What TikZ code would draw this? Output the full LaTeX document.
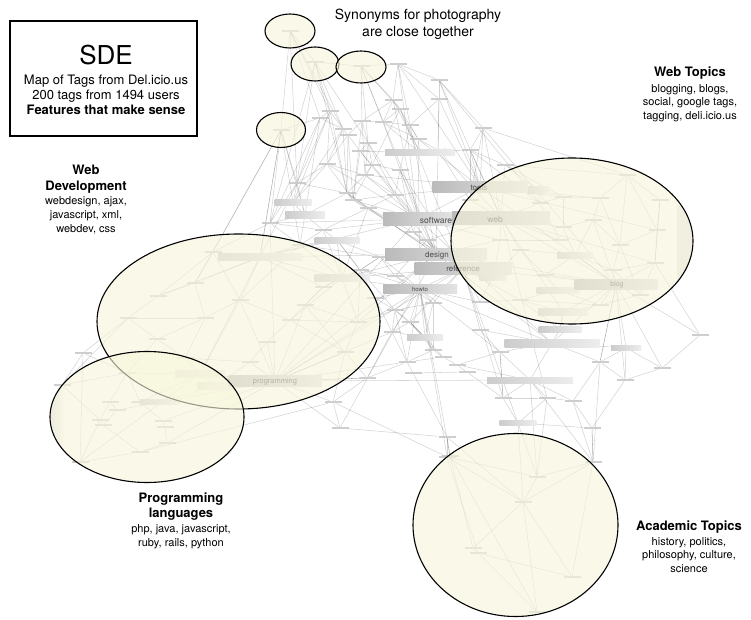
\documentclass[tikz,border=0pt]{standalone}
\usepackage{fontspec}
\setmainfont{TeX Gyre Heros}
\usetikzlibrary{shapes.geometric}
\pgfdeclarelayer{edges}
\pgfdeclarelayer{over}
\pgfsetlayers{edges,main,over}
\definecolor{cream}{RGB}{248,246,220}
\begin{document}
\begin{tikzpicture}[x=1pt,y=-1pt,
  link/.style={draw=black, draw opacity=0.17, line width=0.55pt},
  tag/.style={rectangle, inner sep=0pt, minimum width=17pt, minimum height=2.2pt, fill=black!24, fill opacity=0.8},
  bar/.style={rectangle, inner sep=0pt, left color=black!20, right color=black!7},
  keybar/.style={rectangle, inner sep=0pt, left color=black!27, right color=black!11},
  barlabel/.style={inner sep=0pt, text=black!70, font=\fontsize{8}{9}\selectfont},
  hl/.style={ellipse, draw=black, line width=1.1pt, fill=cream, fill opacity=0.62, inner sep=0pt},
  heading/.style={align=center, inner sep=0pt, font=\fontsize{13}{15.5}\selectfont\bfseries},
  body/.style={align=center, inner sep=0pt, font=\fontsize{11}{13.8}\selectfont}]

\useasboundingbox (0,0) rectangle (751,620);
\begin{pgfonlayer}{edges}
  \fill[white] (0,0) rectangle (751,620);
\end{pgfonlayer}

% ---- small tag marks of the tag network ----
\foreach \n/\x/\y in {
  t1/290/31, t2/315/62, t3/361/66, t4/281/130, t5/398/64, t6/439/80, t7/393/100,
  t8/439/99, t9/400/109, t10/330/111, t11/320/118, t12/362/121, t13/383/122,
  t14/410/125, t15/343/129, t16/348/135, t17/483/128, t18/418/139, t19/368/143,
  t20/360/151, t21/372/165, t22/400/170, t23/438/150, t24/470/150, t25/505/165,
  c1/297/183, c2/327/164, c3/347/193, c4/323/230, c5/270/223, c6/353/200,
  c7/380/257, c8/413/232, c9/427/240, c10/395/276, c11/433/303, c12/300/245,
  c13/365/175, c14/395/195, c15/368/208, c16/360/270, c17/395/310, c18/410/322,
  w1/213/252, w2/323/287, w3/305/305, w4/195/283, w5/158/296, w6/157/339,
  w8/267/342, w9/240/300, w10/290/320, w11/205/318, w12/345/352, w13/128/318,
  w14/358/322, w15/250/362, w16/185/358,
  g1/83/353, g2/127/373, g3/110/402, g4/117/410, g5/140/402, g6/100/420,
  g7/103/425, g8/163/421, g9/165/427, g10/167/443, g11/140/452, g12/80/462, g14/62/385,
  r1/627/175, r2/600/198, r3/540/203, r4/563/197, r5/657/230, r6/593/220,
  r7/563/227, r8/655/263, r9/613/270, r11/545/275, r13/520/250, r14/500/240,
  r16/470/200, r17/560/240, r18/620/245, r19/640/295, r20/600/305, r21/520/300,
  r22/480/302, r23/660/200,
  l1/407/362, l2/433/350, l3/443/357, l4/457/365, l5/467/372, l6/367/378,
  l7/413/373, l8/333/402, l9/340/428, l10/447/437, l11/450/456, l12/503/398,
  l13/547/398, l15/573/401, l16/592/428, l17/625/380, l18/662/368, l19/700/335,
  l20/392/332, l21/480/330, l22/500/352, l23/600/362, l24/375/298,
  a1/447/457, a2/593/462, a3/537/477, a4/523/502, a5/473/548, a6/478/553,
  a7/572/577, a8/537/612}
  \node[tag] (\n) at (\x,\y) {};

% ---- unlabelled tag bars ----
\foreach \n/\x/\y/\w/\h in {
  m1/293/203/37/6, m2/305/215/40/6, m3/337/240/45/6, m4/420/153/70/6,
  m5/560/329/43/6, m6/552/343/95/8, m7/425/337/36/6, m8/626/348/30/5,
  m9/530/380/86/6, m10/518/423/37/5, m11/563/312/50/7, m12/538/190/22/7,
  m13/575/255/36/6, m14/493/277/27/6, m15/558/290/43/6, m16/160/402/40/5,
  jv/200/374/50/7, js/215/386/36/7, lx/260/257/84/7, cs/342/278/55/7}
  \node[bar, minimum width=\w pt, minimum height=\h pt] (\n) at (\x,\y) {};

% ---- labelled tag bars ----
\node[keybar, minimum width=95pt, minimum height=11pt] (tl) at (480,187) {};
\node[barlabel] (tltext) at (479,188) {tools};
\node[keybar, minimum width=70pt, minimum height=12pt] (sw) at (418,219) {};
\node[barlabel, font=\fontsize{8.5}{9}\selectfont] (swtext) at (436,220) {software};
\node[keybar, minimum width=98pt, minimum height=12pt] (wb) at (501,218) {};
\node[barlabel, font=\fontsize{8.5}{9}\selectfont] (wbtext) at (495,219) {web};
\node[keybar, minimum width=102pt, minimum height=12pt] (ds) at (436,254) {};
\node[barlabel] (dstext) at (437,255) {design};
\node[keybar, minimum width=97pt, minimum height=12pt] (rf) at (463,268) {};
\node[barlabel] (rftext) at (463,269) {reference};
\node[keybar, minimum width=74pt, minimum height=9pt] (ht) at (420,289) {};
\node[barlabel, font=\fontsize{6}{7}\selectfont] (httext) at (420,289) {howto};
\node[keybar, minimum width=83pt, minimum height=10pt] (bl) at (616,284) {};
\node[barlabel, font=\fontsize{7}{8}\selectfont] (bltext) at (617,285) {blog};
\node[keybar, minimum width=93pt, minimum height=11pt] (pg) at (275,381) {};
\node[barlabel, font=\fontsize{7.5}{8}\selectfont] (pgtext) at (275,382) {programming};

% ---- faint screen bands inside two highlighted regions ----
\begin{scope}
  \clip (572,241) ellipse [x radius=121, y radius=83];
  \fill[black!9] (677,205) rectangle (700,295);
\end{scope}
\begin{scope}
  \clip (147,417) ellipse [x radius=97, y radius=65.5];
  \shade[left color=black!14, right color=black!2] (48,377) rectangle (64,463);
\end{scope}

% ---- links of the tag network ----
\begin{pgfonlayer}{edges}
\foreach \a/\b in {
  t1/t2, t1/t4, t1/c1, t1/t10, t1/t11, t2/t3, t2/t10, t2/c1, t2/t15, t2/sw, t2/c5,
  t3/t5, t3/t12, t3/t19, t3/ds, t3/t9, t4/c5, t4/t11, t4/w4, t4/c1, t4/lx, t4/w1,
  t5/t6, t5/t7, t5/tl, t5/sw, t5/t14, t6/t8, t6/t17, t6/wb, t6/r3,
  t7/t9, t7/t13, t7/sw, t7/m4, t8/t23, t8/tl, t8/ds, t8/t14,
  t9/t13, t9/t21, t9/rf, t9/m4, t10/t11, t10/t15, t10/c2, t10/m1,
  t11/c1, t11/c5, t11/m2, t12/t13, t12/t19, t12/c13, t12/t16,
  t13/t18, t13/sw, t13/t14, t14/t22, t14/ds, t14/t18, t15/t16, t15/c3, t15/m1,
  t16/t20, t16/c6, t16/c2, t17/t24, t17/wb, t17/r1, t17/bl, t17/r16,
  t18/t23, t18/tl, t18/ht, t18/m4, t19/t20, t19/c13, t19/t21,
  t20/t21, t20/c14, t20/m4, t21/t22, t21/sw, t21/c13, t22/rf, t22/ds, t22/c14,
  t23/t24, t23/wb, t23/m4, t24/t25, t24/r3, t24/tl, t25/wb, t25/r1, t25/m12, t25/r4,
  c1/c2, c1/c3, c1/c5, c1/lx, c1/m1, c2/c13, c2/sw, c2/m1,
  c3/c6, c3/c15, c3/ds, c3/m2, c4/c5, c4/c12, c4/cs, c4/sw, c4/m3,
  c5/w1, c5/c12, c5/pg, c5/m2, c6/c14, c6/c15, c6/rf,
  c7/c16, c7/ds, c7/ht, c7/m3, c8/c9, c8/sw, c8/ds, c8/c15,
  c9/c10, c9/rf, c9/wb, c10/c11, c10/ht, c10/c7, c11/c17, c11/l2, c11/m7,
  c12/lx, c12/cs, c12/w9, c12/m3, c13/c14, c13/tl, c14/c15, c14/sw, c14/tl,
  c15/cs, c15/ds, c16/c17, c16/cs, c16/ht, c16/m3, c17/c18, c17/l1, c17/m7,
  c18/l3, c18/ht, c18/rf, c18/m7,
  w1/lx, w1/w4, w1/w9, w1/w5, w2/w3, w2/cs, w2/w10, w2/lx, w3/pg, w3/w14,
  w4/w5, w4/w11, w4/lx, w5/w13, w5/lx, w6/w16, w6/g2, w6/w11, w6/w13,
  w8/pg, w8/w15, w8/w10, w9/w10, w9/w11, w9/pg, w9/lx, w10/w14, w10/cs,
  w11/w16, w11/w13, w12/w14, w12/pg, w12/l6, w13/g1, w14/c16, w14/ds, w14/cs,
  w15/js, w15/w16, w15/pg, w16/jv,
  jv/js, jv/pg, js/pg, jv/g2, js/m16, jv/lx, jv/w9,
  g1/g2, g1/g12, g1/g14, g2/g3, g2/g5, g3/g4, g3/g6, g4/g7, g4/m16,
  g5/m16, g5/g8, g6/g7, g6/g12, g6/g14, g7/g11, g8/g9, g8/pg, g9/g10,
  g10/g11, g10/pg, g11/g12, g11/l8, m16/pg, g12/jv,
  r1/r2, r1/r23, r1/r5, r2/r4, r2/r6, r2/tl, r3/r4, r3/r17, r3/wb, r3/m12,
  r4/r7, r4/tl, r5/r18, r5/r8, r5/r23, r6/r7, r6/r18, r6/bl, r7/m13, r7/wb,
  r8/r9, r8/bl, r8/r19, r9/m13, r9/r19, r9/r18, m13/r11, m13/bl,
  r11/m15, r11/r13, m14/r13, m14/rf, m14/r22, r13/wb, r14/wb, r14/m14, r14/sw,
  m15/r20, m15/bl, r16/wb, r16/tl, r17/wb, r17/r14,
  r18/r19, r19/r20, r20/r21, r21/r22, r21/m15, r22/rf,
  r20/m11, r21/m11, m11/m5, m11/bl,
  l1/l2, l1/l6, l1/l7, l2/l3, l2/ht, l3/l4, l4/l5, l5/l7, l5/l12,
  l6/l8, l6/pg, l7/l10, l8/l9, l9/l10, l10/l11,
  l12/l13, l12/m10, l13/l15, l13/m10, m10/l16, l15/l16, l15/l23,
  l16/l17, l17/l18, l18/l19, l19/r8,
  l20/l1, l20/c17, l20/ht, l20/m7, l21/l22, l21/rf, l21/m6,
  l22/l12, l22/l4, l22/m9, l23/l17, l23/bl, l23/m6, l24/c17, l24/ht, l24/l20,
  m5/m6, m6/bl, m6/m9, m9/l13, m9/l12, m8/bl, m8/l18, m8/m6,
  a1/a3, a1/a4, a1/a6, a1/l10, a2/a3, a2/a4, a2/l16, a3/a4, a4/a5, a4/a7, a4/a8,
  a5/a6, a6/a7, a6/a8, a7/a2, a3/l13, a1/l8, a2/l23, a3/m9, a8/l11,
  sw/wb, sw/tl, sw/ds, ds/rf, rf/ht, ht/pg, ds/pg, sw/pg, tl/bl, wb/bl, rf/bl,
  ds/bl, lx/sw, cs/ds, pg/rf, wb/l13, bl/l23, rf/l12, ht/l11, ds/l9, pg/l9,
  sw/c5, tl/t17, ht/m6, pg/l8, lx/ds, cs/rf, ht/l22, ds/m6, sw/m6, pg/m9,
  ht/a1, rf/a3, wb/m11, tl/r5, wb/r8, bl/l17, ht/l1, pg/l6, lx/t4,
  t1/t15, t2/c3, t3/t13, t3/t7, t4/c12, t4/m2, t5/t8, t6/tl, t7/t12, t10/c1,
  t10/c3, t11/t15, t12/c6, t15/c2, t16/c3, t19/c14, t20/c6, t21/c6, t22/c8,
  t23/r16, t24/wb, t24/r16, t13/m4, t9/t18, c1/m2, c2/c6, c3/c13, c4/m2, c4/c15,
  c6/sw, c7/c12, c8/rf, c9/ds, c10/c16, c11/rf, c11/ht, c12/m2, c13/sw, c14/ds,
  c16/c7, c17/ht, c18/l2, c18/l20, m1/m2, m3/cs, m3/c16, m7/ht, m7/l2, l24/c16,
  l20/l6, l1/l3, w12/l8, w14/c17, w10/w12, w3/w12, w2/c16, lx/cs, lx/m3,
  cs/ht, pg/l1, pg/l20, jv/g5, g2/g14, g14/w13, r22/ht, r21/rf, m14/ds, r14/ds,
  r13/m13, r11/bl, r9/bl, r20/bl, r6/m13, r2/r18, r1/r18, r23/r8, l19/bl,
  l18/bl, l17/m8, l23/m8, l15/m9, l12/l22, m5/m11, m5/r21, m6/l22, m9/l4,
  l16/a2, l15/a2, a2/m9, l10/a4, l11/a5, m10/a4}
  \draw[link] (\a) -- (\b);
\end{pgfonlayer}

% ---- highlighted regions and captions ----
\begin{pgfonlayer}{over}
\node[hl, minimum width=50pt, minimum height=34pt] (photoA) at (290,31) {};
\node[hl, minimum width=48pt, minimum height=34pt] (photoB) at (315,64) {};
\node[hl, minimum width=50pt, minimum height=32pt] (photoC) at (361,67) {};
\node[hl, minimum width=49pt, minimum height=35pt] (photoD) at (281,130) {};
\node[hl, minimum width=242pt, minimum height=166pt] (webtopics) at (572,241) {};
\node[hl, minimum width=283pt, minimum height=175pt] (webdev) at (238.5,321.5) {};
\node[hl, minimum width=194pt, minimum height=131pt] (proglang) at (147,417) {};
\node[hl, minimum width=205pt, minimum height=183pt] (academic) at (515.5,525) {};

\node[draw=black, line width=1.2pt, fill=white, minimum width=187pt, minimum height=115pt, inner sep=0pt] (infobox) at (103.5,78.5) {};
\node[inner sep=0pt, font=\fontsize{26}{28}\selectfont] (sde) at (106,55) {SDE};
\node[align=center, inner sep=0pt, font=\fontsize{13}{15}\selectfont] (infotext) at (106,95) {Map of Tags from Del.icio.us\\200 tags from 1494 users\\\textbf{Features that make sense}};

\node[align=center, inner sep=0pt, font=\fontsize{14}{17}\selectfont] (photonote) at (418,24) {Synonyms for photography\\are close together};

\node[heading] (wtHead) at (690,73) {Web Topics};
\node[body] (wtBody) at (690,103) {blogging, blogs,\\social, google tags,\\tagging, deli.icio.us};

\node[heading] (wdHead) at (86,179) {Web\\Development};
\node[body] (wdBody) at (86,215.5) {webdesign, ajax,\\javascript, xml,\\webdev, css};

\node[heading] (plHead) at (181,506.5) {Programming\\languages};
\node[body] (plBody) at (181,537) {php, java, javascript,\\ruby, rails, python};

\node[heading] (atHead) at (689,527) {Academic Topics};
\node[body] (atBody) at (689,555) {history, politics,\\philosophy, culture,\\science};
\end{pgfonlayer}
\end{tikzpicture}
\end{document}
